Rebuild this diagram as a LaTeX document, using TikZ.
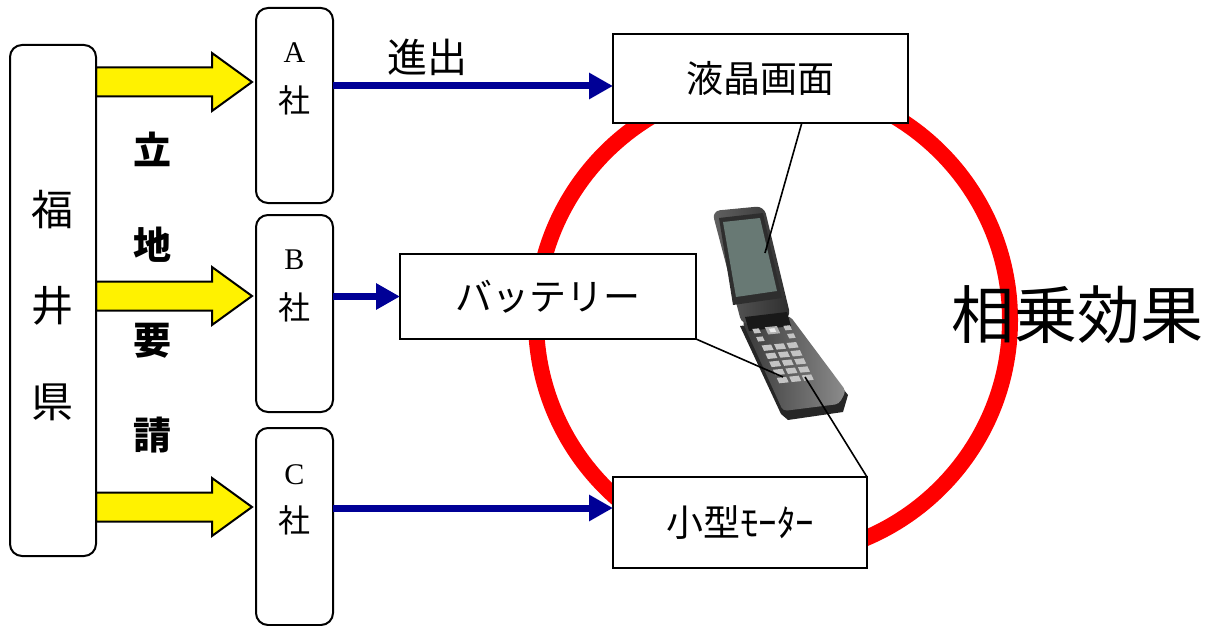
\documentclass[tikz,border=0pt]{standalone}
\usepackage{fontspec}
\setmainfont{Liberation Serif}
\newfontfamily\jp{Noto Sans CJK JP}
\usetikzlibrary{arrows.meta,calc}
\definecolor{deepblue}{RGB}{0,0,150}
\definecolor{lcdgreen}{RGB}{104,121,116}
\definecolor{keygray}{RGB}{196,196,196}

% yellow block arrow centred on height #1 (pixel units)
\newcommand\yellowarrow[1]{%
  \draw[blockarrow] (96,#1-14.5) -- (212,#1-14.5) -- (212,#1-29) -- (252,#1)
    -- (212,#1+29) -- (212,#1+14.5) -- (96,#1+14.5) -- cycle;}
% one key of the handset, in the keypad frame: centre (#2,#3), size #4 x #5
\newcommand\phonekey[5][keygray]{%
  \fill[#1] (#2-#4/2,#3-#5/2) -- ++(#4,0) -- ++(0,#5) -- ++(-#4,0) -- cycle;}

\begin{document}
\begin{tikzpicture}[x=0.5pt,y=-0.5pt,
  frame/.style={draw,line width=1pt,fill=white,inner sep=0pt,outer sep=0pt},
  roundframe/.style={frame,rounded corners=6pt},
  blockarrow/.style={draw,line width=1pt,fill=yellow,line join=miter},
  feed/.style={draw=deepblue,line width=3.5pt,-{Triangle[length=12pt,width=12.5pt]}},
  ring/.style={draw=red,line width=8pt},
  leader/.style={line width=0.8pt},
  jpbox/.style={font=\jp\fontsize{18.5pt}{22pt}\selectfont},
  firmtag/.style={font=\fontsize{15pt}{18pt}\selectfont},
  firmsha/.style={font=\jp\fontsize{16pt}{18pt}\selectfont},
]
\useasboundingbox (0,0) rectangle (1221,626);

% synergy ring
\draw[ring] (773,320) circle[radius=118.5pt];

% flip phone
\begin{scope}[line join=round]
  % lower half: side thickness, then the face
  \fill[black!85] (740,326) -- (788,320) -- (848,395) -- (843,412) -- (788,420) -- (781,414) -- cycle;
  \shade[left color=black!78, right color=black!45, rounded corners=2pt]
    (742,321) -- (790,316) -- (846,391) -- (839,404) -- (783,411) -- cycle;
  % upper half with display
  \shade[left color=black!62, right color=black!82, rounded corners=4pt]
    (712,211) -- (764,206) -- (791,318) -- (742,325) -- cycle;
  \fill[black!82] (719,218) -- (763,213) -- (782,298) -- (733,305) -- cycle;
  \fill[lcdgreen] (723,222) -- (760,218) -- (777,291) -- (736,297) -- cycle;
  % hinge
  \fill[black!90] (745,317) -- (787,312) -- (791,326) -- (749,331) -- cycle;
  % keypad
  \begin{scope}[shift={(742,322)}, x={(25pt,2.5pt)}, y={(21pt,-45pt)}]
    \phonekey{0.20}{0.11}{0.13}{0.05}
    \phonekey{0.82}{0.11}{0.13}{0.05}
    \phonekey[black!30]{0.51}{0.12}{0.24}{0.08}
    \phonekey[black!8]{0.51}{0.12}{0.11}{0.04}
    \phonekey{0.20}{0.20}{0.13}{0.05}
    \phonekey{0.82}{0.20}{0.13}{0.05}
    \foreach \v in {0.30,0.39,0.48,0.57,0.66}
      \foreach \u in {0.26,0.51,0.76}
        \phonekey{\u}{\v}{0.19}{0.06};
  \end{scope}
\end{scope}
\coordinate (scr) at (765,253);
\coordinate (kpa) at (783,377);
\coordinate (kpb) at (805,377);

% prefecture and the three firms
\yellowarrow{82}
\yellowarrow{296}
\yellowarrow{507}
\node[roundframe, minimum width=43pt, minimum height=255.5pt] (pref) at (53,300.5) {};
\node[align=center, font=\jp\fontsize{21pt}{48pt}\selectfont] (preftext) at (53,306) {福\\井\\県};
\node[align=center, font=\jp\bfseries\fontsize{19pt}{47.5pt}\selectfont] (siting) at (152,293) {立\\地\\要\\請};

\node[roundframe, minimum width=38.5pt, minimum height=97.5pt] (firmA) at (294.5,105.5) {};
\node[roundframe, minimum width=38.5pt, minimum height=98.5pt] (firmB) at (294.5,313.5) {};
\node[roundframe, minimum width=38.5pt, minimum height=98.5pt] (firmC) at (294.5,526.5) {};
\node[firmtag] (tagA) at ($(firmA.north)+(0,45)$) {A};
\node[firmsha] (shaA) at ($(firmA.north)+(0,92)$) {社};
\node[firmtag] (tagB) at ($(firmB.north)+(0,45)$) {B};
\node[firmsha] (shaB) at ($(firmB.north)+(0,92)$) {社};
\node[firmtag] (tagC) at ($(firmC.north)+(0,47)$) {C};
\node[firmsha] (shaC) at ($(firmC.north)+(0,92)$) {社};

% component boxes
\node[frame, minimum width=147.5pt, minimum height=44.5pt, jpbox] (lcd) at (760.5,78.5) {\raisebox{-4pt}{液晶画面}};
\node[frame, minimum width=148pt, minimum height=42.5pt, jpbox] (bat) at (548,296.5) {\raisebox{-4pt}{バッテリー}};
\node[frame, minimum width=127pt, minimum height=45.5pt, jpbox] (mot) at (740,522.5) {\raisebox{-4pt}{小型ﾓｰﾀｰ}};

% supply arrows
\coordinate (ya) at (0,86);
\coordinate (yc) at (0,508);
\draw[feed] (firmA.east |- ya) -- (lcd.west |- ya);
\draw[feed] (firmB.east |- bat.west) -- (bat.west);
\draw[feed] (firmC.east |- yc) -- (mot.west |- yc);
\node[font=\jp\fontsize{20pt}{24pt}\selectfont] (entry) at (427,57) {進出};

% leader lines to the handset
\draw[leader] ($(lcd.south west)!0.64!(lcd.south east)$) -- (scr);
\draw[leader] (bat.south east) -- (kpa);
\draw[leader] (mot.north east) -- (kpb);

\node[font=\jp\fontsize{31.5pt}{36pt}\selectfont] (synergy) at (1077,315) {相乗効果};
\end{tikzpicture}
\end{document}
